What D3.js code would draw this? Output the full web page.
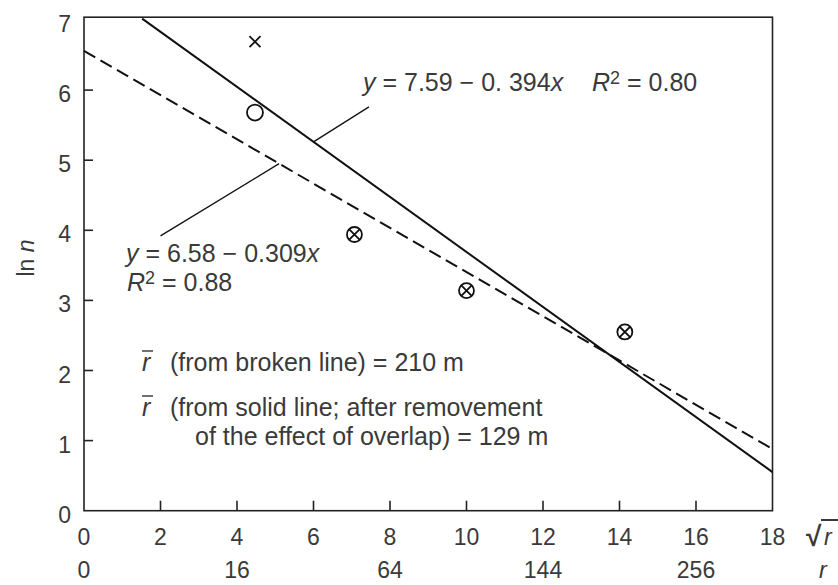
<!DOCTYPE html>
<html>
<head>
<meta charset="utf-8">
<script src="https://cdn.jsdelivr.net/npm/d3@7"></script>
<style>
    body { margin: 0; background: #fff; }
    text { font-family: "Liberation Sans", Arial, sans-serif; fill: #3a3a3a; }
</style>
</head>
<body>
<div id="chart"></div>
<script>
// data
const sqrtTicks = [0, 2, 4, 6, 8, 10, 12, 14, 16, 18];
const rTicks = [0, 16, 64, 144, 256];
const lnTicks = [0, 1, 2, 3, 4, 5, 6, 7];

const pointX = [4.47, 4.47, 7.07, 10.0, 14.14];
const pointY = [6.69, 5.68, 3.94, 3.14, 2.55];
const pointKind = ["cross", "open", "crossed", "crossed", "crossed"];

const solidX = [1.52, 18];
const solidY = [7.02, 0.55];
const dashedX = [0, 18];
const dashedY = [6.56, 0.88];

let width = 838, height = 585;
let tickFont = 23, noteFont = 25;

let svg = d3.select("#chart").append("svg")
    .attr("width", width)
    .attr("height", height);

let x = d3.scaleLinear().domain([0, 18]).range([84, 772.5]);
let y = d3.scaleLinear().domain([0, 7]).range([510.7, 20]);

let yTop = y(7.04);

// frame
svg.append("rect")
    .attr("x", x(0)).attr("y", yTop)
    .attr("width", x(18) - x(0)).attr("height", y(0) - yTop)
    .attr("fill", "none").attr("stroke", "#222").attr("stroke-width", 1.6);

// inner ticks
svg.selectAll(".xtick").data(sqrtTicks.slice(1, -1)).enter().append("line")
    .attr("x1", d => x(d)).attr("x2", d => x(d))
    .attr("y1", y(0)).attr("y2", y(0) - 10)
    .attr("stroke", "#222").attr("stroke-width", 1.6);

svg.selectAll(".ytick").data(lnTicks.slice(1, -1)).enter().append("line")
    .attr("x1", x(0)).attr("x2", x(0) + 9)
    .attr("y1", d => y(d)).attr("y2", d => y(d))
    .attr("stroke", "#222").attr("stroke-width", 1.6);

// tick labels
svg.selectAll(".xlab").data(sqrtTicks).enter().append("text")
    .attr("x", d => x(d)).attr("y", 545)
    .attr("text-anchor", "middle").attr("font-size", tickFont)
    .text(d => d);

svg.selectAll(".rlab").data(rTicks).enter().append("text")
    .attr("x", d => x(Math.sqrt(d))).attr("y", 578)
    .attr("text-anchor", "middle").attr("font-size", tickFont)
    .text(d => d);

svg.selectAll(".ylab").data(lnTicks).enter().append("text")
    .attr("x", 71).attr("y", d => y(d) + 12)
    .attr("text-anchor", "end").attr("font-size", tickFont)
    .text(d => d);

// axis names
let sq = svg.append("g").attr("transform", "translate(806,0)");
sq.append("text").attr("x", 0).attr("y", 546).attr("font-size", 28).style("font-weight", "bold").text("√");
sq.append("line").attr("x1", 15).attr("x2", 32).attr("y1", 520).attr("y2", 520)
    .attr("stroke", "#222").attr("stroke-width", 1.8);
sq.append("text").attr("x", 18).attr("y", 545).attr("font-size", tickFont).style("font-style", "italic").text("r");

svg.append("text").attr("x", 819).attr("y", 578).attr("font-size", tickFont)
    .style("font-style", "italic").text("r");

let yl = svg.append("text")
    .attr("transform", "translate(34,258) rotate(-90)")
    .attr("text-anchor", "middle").attr("font-size", tickFont);
yl.append("tspan").text("ln ");
yl.append("tspan").style("font-style", "italic").text("n");

// regression lines
let line = d3.line().x(d => x(d[0])).y(d => y(d[1]));

svg.append("path")
    .attr("d", line(d3.zip(solidX, solidY)))
    .attr("fill", "none").attr("stroke", "#111").attr("stroke-width", 2);

svg.append("path")
    .attr("d", line(d3.zip(dashedX, dashedY)))
    .attr("fill", "none").attr("stroke", "#111").attr("stroke-width", 2)
    .attr("stroke-dasharray", "13,6");

// leaders from equations to lines
let solidAt = v => solidY[0] + (solidY[1] - solidY[0]) * (v - solidX[0]) / (solidX[1] - solidX[0]);
let dashedAt = v => dashedY[0] + (dashedY[1] - dashedY[0]) * (v - dashedX[0]) / (dashedX[1] - dashedX[0]);

svg.append("path")
    .attr("d", line([[6.0, solidAt(6.0)], [7.45, 5.76]]))
    .attr("fill", "none").attr("stroke", "#111").attr("stroke-width", 1.3);
svg.append("path")
    .attr("d", line([[5.1, dashedAt(5.1)], [2.0, 3.92]]))
    .attr("fill", "none").attr("stroke", "#111").attr("stroke-width", 1.3);

// points
let pts = svg.selectAll(".pt").data(d3.range(pointX.length)).enter().append("g")
    .attr("transform", i => "translate(" + x(pointX[i]) + "," + y(pointY[i]) + ")");

pts.filter(i => pointKind[i] !== "cross").append("circle")
    .attr("r", i => pointKind[i] === "open" ? 8 : 7.5)
    .attr("fill", "#fff").attr("stroke", "#111").attr("stroke-width", 1.8);

pts.filter(i => pointKind[i] !== "open").each(function(i) {
    let s = pointKind[i] === "cross" ? 5.5 : 5.2;
    d3.select(this).append("path")
        .attr("d", "M" + (-s) + "," + (-s) + "L" + s + "," + s + "M" + (-s) + "," + s + "L" + s + "," + (-s))
        .attr("stroke", "#111").attr("stroke-width", 1.8);
});

// equation labels
function eq(xPos, yPos, parts) {
    let t = svg.append("text").attr("x", xPos).attr("y", yPos).attr("font-size", noteFont);
    parts.forEach(p => {
        let s = t.append("tspan").text(p.t);
        if (p.i) s.style("font-style", "italic");
        if (p.sup) s.attr("font-size", 18).attr("dy", -7);
        if (p.down) s.attr("dy", 7);
    });
}

eq(363, 91, [
    { t: "y", i: true }, { t: " = 7.59 − 0. 394" }, { t: "x", i: true }
]);
eq(592, 91, [
    { t: "R", i: true }, { t: "2", sup: true }, { t: " = 0.80", down: true }
]);
eq(126, 262, [
    { t: "y", i: true }, { t: " = 6.58 − 0.309" }, { t: "x", i: true }
]);
eq(127, 291, [
    { t: "R", i: true }, { t: "2", sup: true }, { t: " = 0.88", down: true }
]);

// mean-distance notes
function rbar(xPos, yPos) {
    svg.append("text").attr("x", xPos).attr("y", yPos).attr("font-size", noteFont)
        .style("font-style", "italic").text("r");
    svg.append("line").attr("x1", xPos).attr("x2", xPos + 11)
        .attr("y1", yPos - 20).attr("y2", yPos - 20)
        .attr("stroke", "#333").attr("stroke-width", 1.4);
}
rbar(142, 371);
svg.append("text").attr("x", 170).attr("y", 371).attr("font-size", noteFont)
    .text("(from broken line) = 210 m");
rbar(142, 416);
svg.append("text").attr("x", 170).attr("y", 416).attr("font-size", noteFont)
    .text("(from solid line; after removement");
svg.append("text").attr("x", 195).attr("y", 445).attr("font-size", noteFont)
    .text("of the effect of overlap) = 129 m");
</script>
</body>
</html>
